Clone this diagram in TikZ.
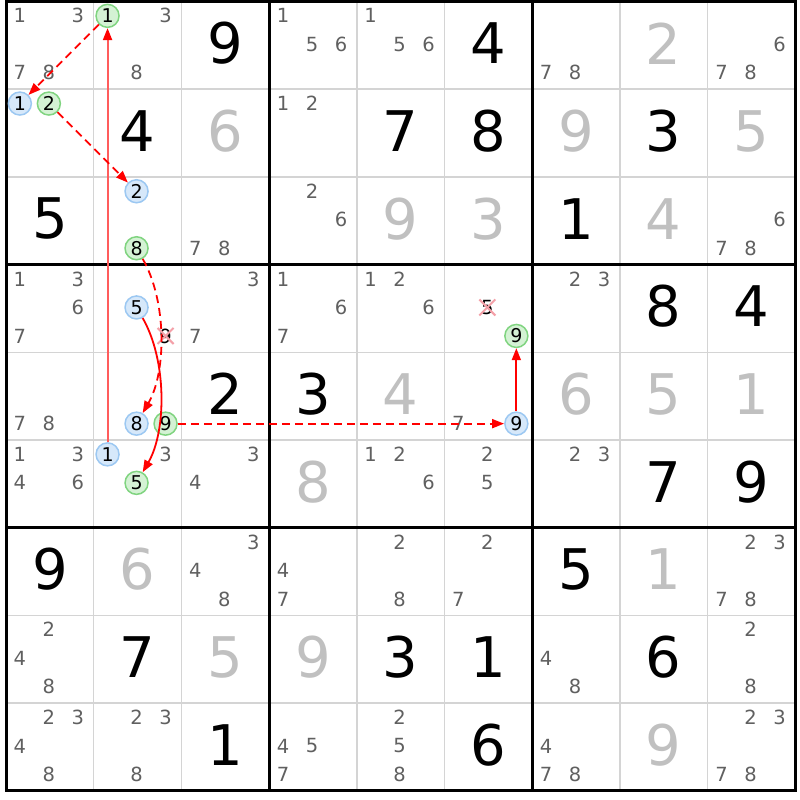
\documentclass[tikz,border=0pt]{standalone}
\usepackage{fontspec}
\setmainfont{DejaVu Sans}
\usetikzlibrary{arrows.meta}
\definecolor{candgray}{HTML}{606060}
\definecolor{solvedgray}{HTML}{C0C0C0}
\definecolor{thingray}{HTML}{D4D4D4}
\definecolor{bluefill}{HTML}{D6E8FA}
\definecolor{bluebd}{HTML}{9CC8F2}
\definecolor{greenfill}{HTML}{D4F2D4}
\definecolor{greenbd}{HTML}{80D480}
\definecolor{linkred}{HTML}{FF0000}
\definecolor{palered}{HTML}{FF5C5C}
\definecolor{crosspink}{HTML}{F4A0A8}
\tikzset{
  given/.style={inner sep=0pt, font=\fontsize{56}{56}\selectfont, text=black},
  solved/.style={given, text=solvedgray},
  candtxt/.style={inner sep=0pt, font=\fontsize{19.5}{20}\selectfont, text=candgray},
  crosstxt/.style={candtxt, text=black},
  circbase/.style={circle, line width=1.5pt, minimum size=23pt, inner sep=0pt, font=\fontsize{19}{19}\selectfont, text=black},
  bluec/.style={circbase, draw=bluebd, fill=bluefill},
  greenc/.style={circbase, draw=greenbd, fill=greenfill},
  lnk/.style={draw=linkred, line width=1.8pt, -{Triangle[length=12pt,width=9pt]}},
  dlnk/.style={lnk, dash pattern=on 8pt off 5pt},
  crossx/.style={draw=crosspink, line width=2pt},
  thinline/.style={draw=thingray, line width=1.5pt},
  thickline/.style={draw=black, line width=3pt},
}
% given / solved big digits
\newcommand\gv[3]{\node[given] (g#1#2) at ({6+(#2-0.5)*87.7},{1.5+(#1-0.5)*87.7-2}) {#3};}
\newcommand\sv[3]{\node[solved] (g#1#2) at ({6+(#2-0.5)*87.7},{1.5+(#1-0.5)*87.7-2}) {#3};}
% candidate position
\newcommand\cpos[3]{({6+(#2-0.5)*87.7+(mod(#3-1,3)-1)*29-1},{1.5+(#1-0.5)*87.7+(floor((#3-1)/3)-1)*28.5-1})}
\newcommand\cand[3]{\node[candtxt] (k#1#2#3) at \cpos{#1}{#2}{#3} {#3};}
\newcommand\cands[3]{\foreach \dd in {#3}{\cand{#1}{#2}{\dd}}}
\newcommand\cc[4]{\node[#4] (c#1#2#3) at \cpos{#1}{#2}{#3} {#3};}
\newcommand\xc[3]{\node[crosstxt] (x#1#2#3) at \cpos{#1}{#2}{#3} {#3};
  \draw[crossx] ([shift={(-8,-8)}]x#1#2#3.center) -- ([shift={(8,8)}]x#1#2#3.center);
  \draw[crossx] ([shift={(8,-8)}]x#1#2#3.center) -- ([shift={(-8,8)}]x#1#2#3.center);}
\begin{document}
\begin{tikzpicture}[x=1pt,y=-1pt]
\useasboundingbox (0,0) rectangle (800,800);
\fill[white] (0,0) rectangle (800,800);
% thin grid lines
\foreach \i in {1,2,4,5,7,8}{
  \draw[thinline] ({6+\i*87.7},1.5) -- ({6+\i*87.7},790.8);
  \draw[thinline] (6,{1.5+\i*87.7}) -- (795.3,{1.5+\i*87.7});
}
\foreach \i in {3,6}{
  \draw[thickline] ({6+\i*87.7},1.5) -- ({6+\i*87.7},790.8);
  \draw[thickline] (6,{1.5+\i*87.7}) -- (795.3,{1.5+\i*87.7});
}
\draw[thickline] (6,1.5) rectangle (795.3,790.8);
% row 1
\cands{1}{1}{1,3,7,8} \cands{1}{2}{3,8} \gv{1}{3}{9} \cands{1}{4}{1,5,6} \cands{1}{5}{1,5,6}
\gv{1}{6}{4} \cands{1}{7}{7,8} \sv{1}{8}{2} \cands{1}{9}{6,7,8}
% row 2
\gv{2}{2}{4} \sv{2}{3}{6} \cands{2}{4}{1,2} \gv{2}{5}{7} \gv{2}{6}{8} \sv{2}{7}{9} \gv{2}{8}{3} \sv{2}{9}{5}
% row 3
\gv{3}{1}{5} \cands{3}{3}{7,8} \cands{3}{4}{2,6} \sv{3}{5}{9} \sv{3}{6}{3} \gv{3}{7}{1} \sv{3}{8}{4} \cands{3}{9}{6,7,8}
% row 4
\cands{4}{1}{1,3,6,7} \cands{4}{3}{3,7} \cands{4}{4}{1,6,7} \cands{4}{5}{1,2,6} \cands{4}{7}{2,3} \gv{4}{8}{8} \gv{4}{9}{4}
% row 5
\cands{5}{1}{7,8} \gv{5}{3}{2} \gv{5}{4}{3} \sv{5}{5}{4} \cands{5}{6}{7} \sv{5}{7}{6} \sv{5}{8}{5} \sv{5}{9}{1}
% row 6
\cands{6}{1}{1,3,4,6} \cands{6}{2}{3} \cands{6}{3}{3,4} \sv{6}{4}{8} \cands{6}{5}{1,2,6} \cands{6}{6}{2,5} \cands{6}{7}{2,3} \gv{6}{8}{7} \gv{6}{9}{9}
% row 7
\gv{7}{1}{9} \sv{7}{2}{6} \cands{7}{3}{3,4,8} \cands{7}{4}{4,7} \cands{7}{5}{2,8} \cands{7}{6}{2,7} \gv{7}{7}{5} \sv{7}{8}{1} \cands{7}{9}{2,3,7,8}
% row 8
\cands{8}{1}{2,4,8} \gv{8}{2}{7} \sv{8}{3}{5} \sv{8}{4}{9} \gv{8}{5}{3} \gv{8}{6}{1} \cands{8}{7}{4,8} \gv{8}{8}{6} \cands{8}{9}{2,8}
% row 9
\cands{9}{1}{2,3,4,8} \cands{9}{2}{2,3,8} \gv{9}{3}{1} \cands{9}{4}{4,5,7} \cands{9}{5}{2,5,8} \gv{9}{6}{6} \cands{9}{7}{4,7,8} \sv{9}{8}{9} \cands{9}{9}{2,3,7,8}
% crossed candidates
\xc{4}{2}{9} \xc{4}{6}{5}
% circled candidates
\cc{1}{2}{1}{greenc}
\cc{2}{1}{1}{bluec} \cc{2}{1}{2}{greenc}
\cc{3}{2}{2}{bluec} \cc{3}{2}{8}{greenc}
\cc{4}{2}{5}{bluec} \cc{4}{6}{9}{greenc}
\cc{5}{2}{8}{bluec} \cc{5}{2}{9}{greenc} \cc{5}{6}{9}{bluec}
\cc{6}{2}{1}{bluec} \cc{6}{2}{5}{greenc}
% links
\draw[lnk, draw=palered, line width=2pt, -{Triangle[length=12pt,width=9pt,color=linkred]}] (c621) -- (c121);
\draw[dlnk] (c121) -- (c211);
\draw[dlnk] (c212) -- (c322);
\draw[dlnk] (c328) to[out=-60,in=60,looseness=0.8] (c528);
\draw[lnk] (c425) to[out=-60,in=60,looseness=0.8] (c625);
\draw[dlnk] (c529) -- (c569);
\draw[lnk] (c569) -- (c469);
\end{tikzpicture}
\end{document}
